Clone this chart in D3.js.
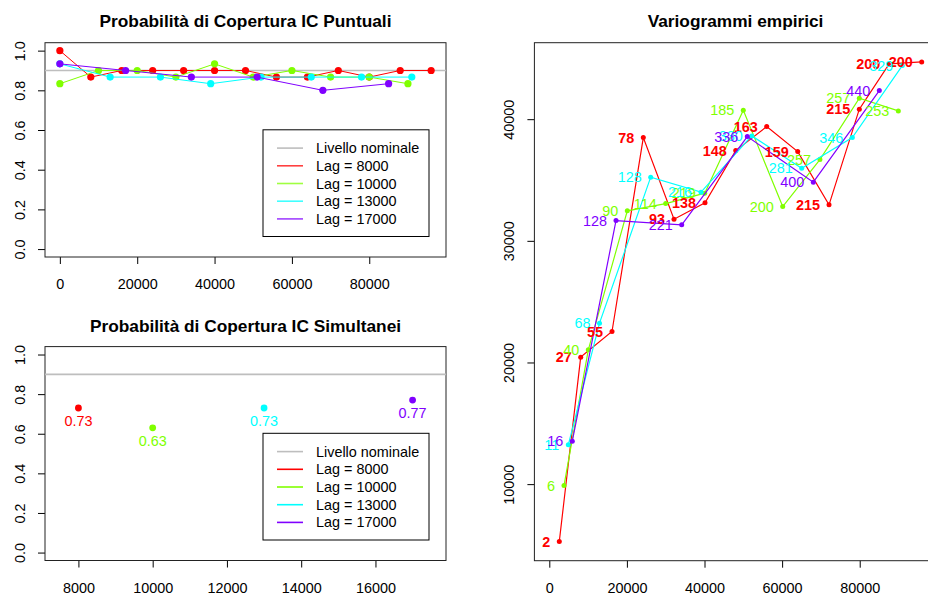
<!DOCTYPE html>
<html>
<head>
<meta charset="utf-8">
<script src="https://cdn.jsdelivr.net/npm/d3@7"></script>
<style>
  body { margin: 0; background: #fff; }
  svg { display: block; }
  text { font-family: "Liberation Sans", Arial, Helvetica, sans-serif; }
</style>
</head>
<body>
<svg id="chart" width="928" height="599"></svg>
<script>
// ---- series definitions ----
const lagLabels = ["Lag = 8000", "Lag = 10000", "Lag = 13000", "Lag = 17000"];
const lagColors = ["#FF0000", "#80FF00", "#00FFFF", "#8000FF"];
const nominalLabel = "Livello nominale";
const nominalLevel = 0.9;
const nominalColor = "#BEBEBE";

// ---- pointwise coverage by distance ----
const covDist8000  = [0, 8000, 16000, 24000, 32000, 40000, 48000, 56000, 64000, 72000, 80000, 88000, 96000];
const covVal8000   = [1.0, 0.8667, 0.9, 0.9, 0.9, 0.9, 0.9, 0.8667, 0.8667, 0.9, 0.8667, 0.9, 0.9];
const covDist10000 = [0, 10000, 20000, 30000, 40000, 50000, 60000, 70000, 80000, 90000];
const covVal10000  = [0.8333, 0.9, 0.9, 0.8667, 0.9333, 0.8667, 0.9, 0.8667, 0.8667, 0.8333];
const covDist13000 = [0, 13000, 26000, 39000, 52000, 65000, 78000, 91000];
const covVal13000  = [0.9333, 0.8667, 0.8667, 0.8333, 0.8667, 0.8667, 0.8667, 0.8667];
const covDist17000 = [0, 17000, 34000, 51000, 68000, 85000];
const covVal17000  = [0.9333, 0.9, 0.8667, 0.8667, 0.8, 0.8333];

// ---- simultaneous coverage by lag ----
const simLags = [8000, 10000, 13000, 17000];
const simCov  = [0.73, 0.63, 0.73, 0.77];

// ---- empirical variograms: mean distance, semivariance, number of pairs ----
const vgDist8000  = [2577, 8093, 16160, 24227, 32139, 40129, 48041, 56031, 64021, 72088, 79897, 87600, 95979];
const vgGamma8000 = [5283, 20439, 22543, 38488, 31781, 33121, 37419, 39392, 37337, 32956, 40822, 44550, 44710];
const vgNp8000    = [2, 27, 55, 78, 93, 138, 148, 163, 159, 215, 215, 200, 200];
const vgDist10000  = [3789, 10052, 20103, 30000, 40052, 50000, 60155, 69742, 79897, 89948];
const vgGamma10000 = [9885, 21039, 32463, 33063, 33918, 40740, 32817, 36680, 41726, 40682];
const vgNp10000    = [6, 40, 90, 114, 219, 185, 200, 257, 257, 253];
const vgDist13000  = [4897, 12938, 26134, 39098, 52165, 65052, 78093, 90979];
const vgGamma13000 = [13231, 23233, 35233, 34000, 38627, 35973, 38488, 44409];
const vgNp13000    = [11, 68, 128, 216, 330, 281, 346, 329];
const vgDist17000  = [5928, 17191, 34124, 51031, 68041, 85052];
const vgGamma17000 = [13535, 31666, 31313, 38570, 34822, 42351];
const vgNp17000    = [16, 128, 221, 336, 400, 440];

// ---- axis ticks ----
const covTicks     = [0, 0.2, 0.4, 0.6, 0.8, 1.0];
const distTicks    = [0, 20000, 40000, 60000, 80000];
const simLagTicks  = [8000, 10000, 12000, 14000, 16000];
const gammaTicks   = [10000, 20000, 30000, 40000];

// ---- titles ----
const titlePointwise = "Probabilità di Copertura IC Puntuali";
const titleSimult    = "Probabilità di Copertura IC Simultanei";
const titleVario     = "Variogrammi empirici";

const svg = d3.select("#chart");
svg.append("rect").attr("width", 928).attr("height", 599).attr("fill", "#fff");

const FS = 14.4;

// pad a data range by 4% on each side (classic plot axis style)
function padded(lo, hi) {
  const e = (hi - lo) * 0.04;
  return [lo - e, hi + e];
}

function panel(box, xDomain, yDomain, xTicks, yTicks, yFmt, title) {
  const x = d3.scaleLinear().domain(xDomain).range([box.x0, box.x1]);
  const y = d3.scaleLinear().domain(yDomain).range([box.y1, box.y0]);

  const gx = svg.append("g")
    .attr("transform", `translate(0,${box.y1})`)
    .call(d3.axisBottom(x).tickValues(xTicks).tickSize(7).tickPadding(15)
      .tickFormat(d3.format("d")));
  gx.select(".domain").remove();
  gx.selectAll("text").attr("font-size", FS).attr("fill", "#000")
    .style("font-family", '"Liberation Sans", Arial, sans-serif');
  gx.selectAll("line").attr("stroke", "#000");

  const gy = svg.append("g")
    .attr("transform", `translate(${box.x0},0)`)
    .call(d3.axisLeft(y).tickValues(yTicks).tickSize(7).tickFormat(yFmt));
  gy.select(".domain").remove();
  gy.selectAll("line").attr("stroke", "#000");
  gy.selectAll("text")
    .attr("font-size", FS).attr("fill", "#000")
    .style("font-family", '"Liberation Sans", Arial, sans-serif')
    .attr("x", 0).attr("dy", 0)
    .attr("text-anchor", "middle")
    .attr("transform", "translate(-20.5,0) rotate(-90)");

  svg.append("rect")
    .attr("x", box.x0).attr("y", box.y0)
    .attr("width", box.x1 - box.x0).attr("height", box.y1 - box.y0)
    .attr("fill", "none").attr("stroke", "#222").attr("stroke-width", 1);

  svg.append("text")
    .attr("x", (box.x0 + box.x1) / 2).attr("y", box.titleY)
    .attr("text-anchor", "middle")
    .attr("font-size", 17.3).attr("font-weight", "bold")
    .text(title);

  const clipId = "clip" + Math.round(box.x0) + "_" + Math.round(box.y0);
  svg.append("clipPath").attr("id", clipId)
    .append("rect").attr("x", box.x0).attr("y", box.y0)
    .attr("width", box.x1 - box.x0).attr("height", box.y1 - box.y0);
  const plot = svg.append("g").attr("clip-path", `url(#${clipId})`);
  return { x, y, plot };
}

function legend(box, lineOpacity) {
  const w = 166, h = 106.7;
  const lx = box.x1 - 17 - w, ly = box.y1 - 20.5 - h;
  const g = svg.append("g");
  g.append("rect").attr("x", lx).attr("y", ly).attr("width", w).attr("height", h)
    .attr("fill", "#fff").attr("stroke", "#000").attr("stroke-width", 1);
  const names = [nominalLabel].concat(lagLabels);
  const cols = [nominalColor].concat(lagColors);
  names.forEach((n, i) => {
    const cy = ly + 18.3 + i * 17.7;
    g.append("line").attr("x1", lx + 14).attr("x2", lx + 40)
      .attr("y1", cy).attr("y2", cy)
      .attr("stroke", cols[i]).attr("stroke-width", 1.6)
      .attr("stroke-opacity", i === 0 ? 1 : lineOpacity);
    g.append("text").attr("x", lx + 53).attr("y", cy).attr("dy", "0.35em")
      .attr("font-size", FS).text(n);
  });
}

// ---------- panel 1: pointwise coverage ----------
{
  const box = { x0: 45, x1: 446, y0: 42.7, y1: 257, titleY: 27 };
  const p = panel(box, padded(0, 96000), padded(0, 1), distTicks, covTicks,
    d3.format(".1f"), titlePointwise);
  p.plot.append("line")
    .attr("x1", box.x0).attr("x2", box.x1)
    .attr("y1", p.y(nominalLevel)).attr("y2", p.y(nominalLevel))
    .attr("stroke", nominalColor).attr("stroke-width", 1.6);
  const series = [
    [covDist8000, covVal8000], [covDist10000, covVal10000],
    [covDist13000, covVal13000], [covDist17000, covVal17000]
  ];
  const line = d3.line().x(d => p.x(d[0])).y(d => p.y(d[1]));
  series.forEach(([xs, ys], k) => {
    const pts = xs.map((v, i) => [v, ys[i]]);
    p.plot.append("path").datum(pts).attr("d", line)
      .attr("fill", "none").attr("stroke", lagColors[k]).attr("stroke-width", 1);
    p.plot.selectAll(null).data(pts).enter().append("circle")
      .attr("cx", d => p.x(d[0])).attr("cy", d => p.y(d[1]))
      .attr("r", 3.6).attr("fill", lagColors[k]);
  });
  legend(box, 0.75);
}

// ---------- panel 2: simultaneous coverage ----------
{
  const box = { x0: 45, x1: 446, y0: 346.6, y1: 560.5, titleY: 331.7 };
  const p = panel(box, padded(7500, 17500), padded(0, 1), simLagTicks, covTicks,
    d3.format(".1f"), titleSimult);
  p.plot.append("line")
    .attr("x1", box.x0).attr("x2", box.x1)
    .attr("y1", p.y(nominalLevel)).attr("y2", p.y(nominalLevel))
    .attr("stroke", nominalColor).attr("stroke-width", 1.6);
  simLags.forEach((lag, k) => {
    p.plot.append("circle").attr("cx", p.x(lag)).attr("cy", p.y(simCov[k]))
      .attr("r", 3.4).attr("fill", lagColors[k]);
    p.plot.append("text").attr("x", p.x(lag)).attr("y", p.y(simCov[k]) + 13)
      .attr("dy", "0.35em").attr("text-anchor", "middle")
      .attr("font-size", FS).attr("fill", lagColors[k])
      .text(simCov[k].toFixed(2));
  });
  legend(box, 1);
}

// ---------- panel 3: empirical variograms ----------
{
  const box = { x0: 534.4, x1: 936.7, y0: 42.7, y1: 560.7, titleY: 27 };
  const all = [vgGamma8000, vgGamma10000, vgGamma13000, vgGamma17000].flat();
  const p = panel(box, padded(0, 96000), padded(d3.min(all), d3.max(all)),
    distTicks, gammaTicks, d3.format("d"), titleVario);
  const series = [
    [vgDist8000, vgGamma8000, vgNp8000], [vgDist10000, vgGamma10000, vgNp10000],
    [vgDist13000, vgGamma13000, vgNp13000], [vgDist17000, vgGamma17000, vgNp17000]
  ];
  const line = d3.line().x(d => p.x(d[0])).y(d => p.y(d[1]));
  series.forEach(([xs, ys, ns], k) => {
    const pts = xs.map((v, i) => [v, ys[i], ns[i]]);
    p.plot.append("path").datum(pts).attr("d", line)
      .attr("fill", "none").attr("stroke", lagColors[k]).attr("stroke-width", 1.2);
    p.plot.selectAll(null).data(pts).enter().append("circle")
      .attr("cx", d => p.x(d[0])).attr("cy", d => p.y(d[1]))
      .attr("r", 2.5).attr("fill", lagColors[k]);
    svg.selectAll(null).data(pts).enter().append("text")
      .attr("x", d => p.x(d[0]) - 9).attr("y", d => p.y(d[1]))
      .attr("dy", "0.35em").attr("text-anchor", "end")
      .attr("font-size", FS).attr("fill", lagColors[k])
      .attr("font-weight", k === 0 ? "bold" : "normal")
      .text(d => d[2]);
  });
}
</script>
</body>
</html>
